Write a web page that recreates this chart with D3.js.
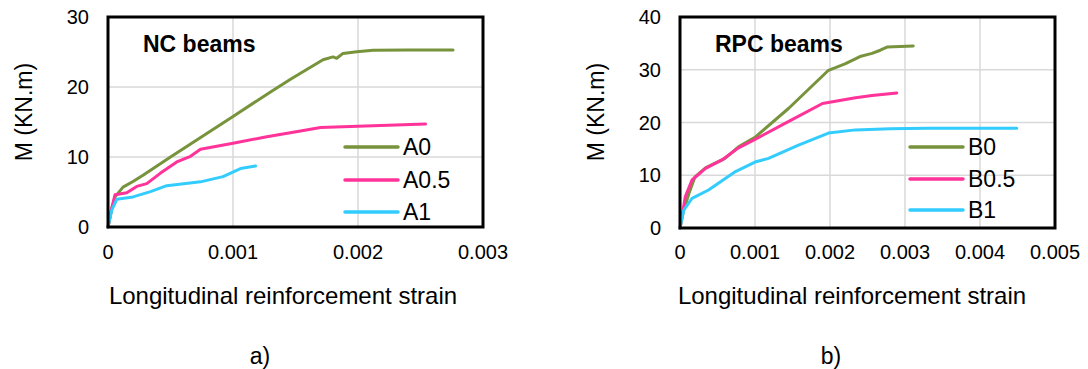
<!DOCTYPE html>
<html>
<head>
<meta charset="utf-8">
<script src="https://cdn.jsdelivr.net/npm/d3@7"></script>
<style>
  body { margin: 0; background: #fff; }
  svg { display: block; font-family: "Liberation Sans", Arial, sans-serif; }
</style>
</head>
<body>
<svg id="chart" width="1088" height="369"></svg>
<script>
// panel a) NC beams
const ncXTicks = [0, 0.001, 0.002, 0.003];
const ncYTicks = [0, 10, 20, 30];
const ncNames = ['A0', 'A0.5', 'A1'];
const A0 = [[0,0],[0.00003,2.6],[0.000056,4.3],[0.00012,5.7],[0.0002,6.5],[0.00028,7.4],[0.0005,10.0],[0.00075,12.9],[0.001,15.8],[0.0013,19.3],[0.00146,21.1],[0.0016,22.6],[0.00172,23.9],[0.0018,24.3],[0.00183,24.1],[0.00188,24.8],[0.00199,25.05],[0.00212,25.25],[0.0024,25.3],[0.00276,25.3]];
const A05 = [[0,0],[0.00003,2.7],[0.000056,4.6],[0.00015,4.9],[0.00023,5.8],[0.00031,6.2],[0.00042,7.7],[0.00055,9.3],[0.00066,10.1],[0.00074,11.1],[0.001,11.95],[0.00127,12.9],[0.00154,13.7],[0.0017,14.2],[0.002,14.4],[0.00254,14.7]];
const A1 = [[0,0],[0.00003,2.4],[0.00007,3.95],[0.0002,4.3],[0.00034,5.05],[0.00047,5.9],[0.00074,6.45],[0.00092,7.2],[0.00106,8.35],[0.00118,8.7]];

// panel b) RPC beams
const rpcXTicks = [0, 0.001, 0.002, 0.003, 0.004, 0.005];
const rpcYTicks = [0, 10, 20, 30, 40];
const rpcNames = ['B0', 'B0.5', 'B1'];
const B0 = [[0,0],[0.00005,3.4],[0.00012,6.6],[0.0002,9.7],[0.00034,11.4],[0.0006,13.2],[0.00078,15.4],[0.001,17.2],[0.00145,22.7],[0.00198,29.9],[0.0022,31.1],[0.0024,32.5],[0.00256,33.1],[0.00267,33.7],[0.00276,34.3],[0.00311,34.5]];
const B05 = [[0,0],[0.00007,5.9],[0.00016,9.1],[0.00034,11.3],[0.00056,12.9],[0.00078,15.2],[0.001,16.8],[0.00145,20.2],[0.0019,23.6],[0.00234,24.7],[0.00256,25.1],[0.00289,25.6]];
const B1 = [[0,0],[0.00005,3.4],[0.00016,5.6],[0.00038,7.2],[0.00074,10.7],[0.001,12.5],[0.00118,13.2],[0.00158,15.7],[0.00198,18.0],[0.00234,18.6],[0.0028,18.8],[0.00329,18.9],[0.00449,18.9]];

const colors = ['#77933c', '#ff3399', '#33ccff'];

const svg = d3.select('#chart');

function drawPanel(p) {
  const g = svg.append('g');
  const x = d3.scaleLinear().domain([0, p.xMax]).range([p.left, p.right]);
  const y = d3.scaleLinear().domain([0, p.yMax]).range([p.bottom, p.top]);

  // gridlines
  g.selectAll('.gx').data(p.xTicks).enter().append('line')
    .attr('x1', d => x(d)).attr('x2', d => x(d))
    .attr('y1', p.top).attr('y2', p.bottom)
    .attr('stroke', '#d9d9d9').attr('stroke-width', 1.5);
  g.selectAll('.gy').data(p.yTicks).enter().append('line')
    .attr('x1', p.left).attr('x2', p.right)
    .attr('y1', d => y(d)).attr('y2', d => y(d))
    .attr('stroke', '#d9d9d9').attr('stroke-width', 1.5);

  // tick labels
  g.selectAll('.tx').data(p.xTicks).enter().append('text')
    .attr('x', d => x(d)).attr('y', 252).attr('dy', '0.35em')
    .attr('text-anchor', 'middle').attr('font-size', 20)
    .text(d => d);
  g.selectAll('.ty').data(p.yTicks).enter().append('text')
    .attr('x', p.left - 19).attr('y', d => y(d)).attr('dy', '0.35em')
    .attr('text-anchor', 'end').attr('font-size', 20)
    .text(d => d);

  // curves
  const line = d3.line().x(d => x(d[0])).y(d => y(d[1]));
  p.series.forEach((s, i) => {
    g.append('path').datum(s)
      .attr('d', line)
      .attr('fill', 'none')
      .attr('stroke', colors[i])
      .attr('stroke-width', 3)
      .attr('stroke-linejoin', 'round')
      .attr('stroke-linecap', 'round');
  });

  // frame
  g.append('rect')
    .attr('x', p.left).attr('y', p.top)
    .attr('width', p.right - p.left).attr('height', p.bottom - p.top)
    .attr('fill', 'none').attr('stroke', '#000').attr('stroke-width', 3);

  // title inside plot
  g.append('text')
    .attr('x', p.titleX).attr('y', 52)
    .attr('font-size', 23).attr('font-weight', 'bold')
    .text(p.title);

  // legend
  p.names.forEach((n, i) => {
    const ly = p.legendY[i];
    g.append('line')
      .attr('x1', p.legendX).attr('x2', p.legendX + 53)
      .attr('y1', ly).attr('y2', ly)
      .attr('stroke', colors[i]).attr('stroke-width', 3.5)
      .attr('stroke-linecap', 'round');
    g.append('text')
      .attr('x', p.legendX + 58).attr('y', ly).attr('dy', '0.36em')
      .attr('font-size', 23)
      .text(n);
  });

  // axis titles
  g.append('text')
    .attr('transform', `translate(${p.left - 84},112) rotate(-90)`)
    .attr('text-anchor', 'middle').attr('dy', '0.35em')
    .attr('font-size', 23)
    .text('M (KN.m)');
  g.append('text')
    .attr('x', p.xTitleX).attr('y', 296).attr('dy', '0.35em')
    .attr('text-anchor', 'middle').attr('font-size', 24)
    .text('Longitudinal reinforcement strain');
  g.append('text')
    .attr('x', p.capX).attr('y', 356).attr('dy', '0.35em')
    .attr('text-anchor', 'middle').attr('font-size', 23)
    .text(p.caption);
}

drawPanel({
  left: 108, right: 483, top: 17, bottom: 227,
  xMax: 0.003, yMax: 30, xTicks: ncXTicks, yTicks: ncYTicks,
  series: [A0, A05, A1], names: ncNames,
  title: 'NC beams', titleX: 143,
  legendX: 345, legendY: [147, 180, 212],
  xTitleX: 283, capX: 260, caption: 'a)'
});

drawPanel({
  left: 680, right: 1055, top: 17, bottom: 228,
  xMax: 0.005, yMax: 40, xTicks: rpcXTicks, yTicks: rpcYTicks,
  series: [B0, B05, B1], names: rpcNames,
  title: 'RPC beams', titleX: 715,
  legendX: 910, legendY: [147, 179, 210],
  xTitleX: 852, capX: 831, caption: 'b)'
});
</script>
</body>
</html>
